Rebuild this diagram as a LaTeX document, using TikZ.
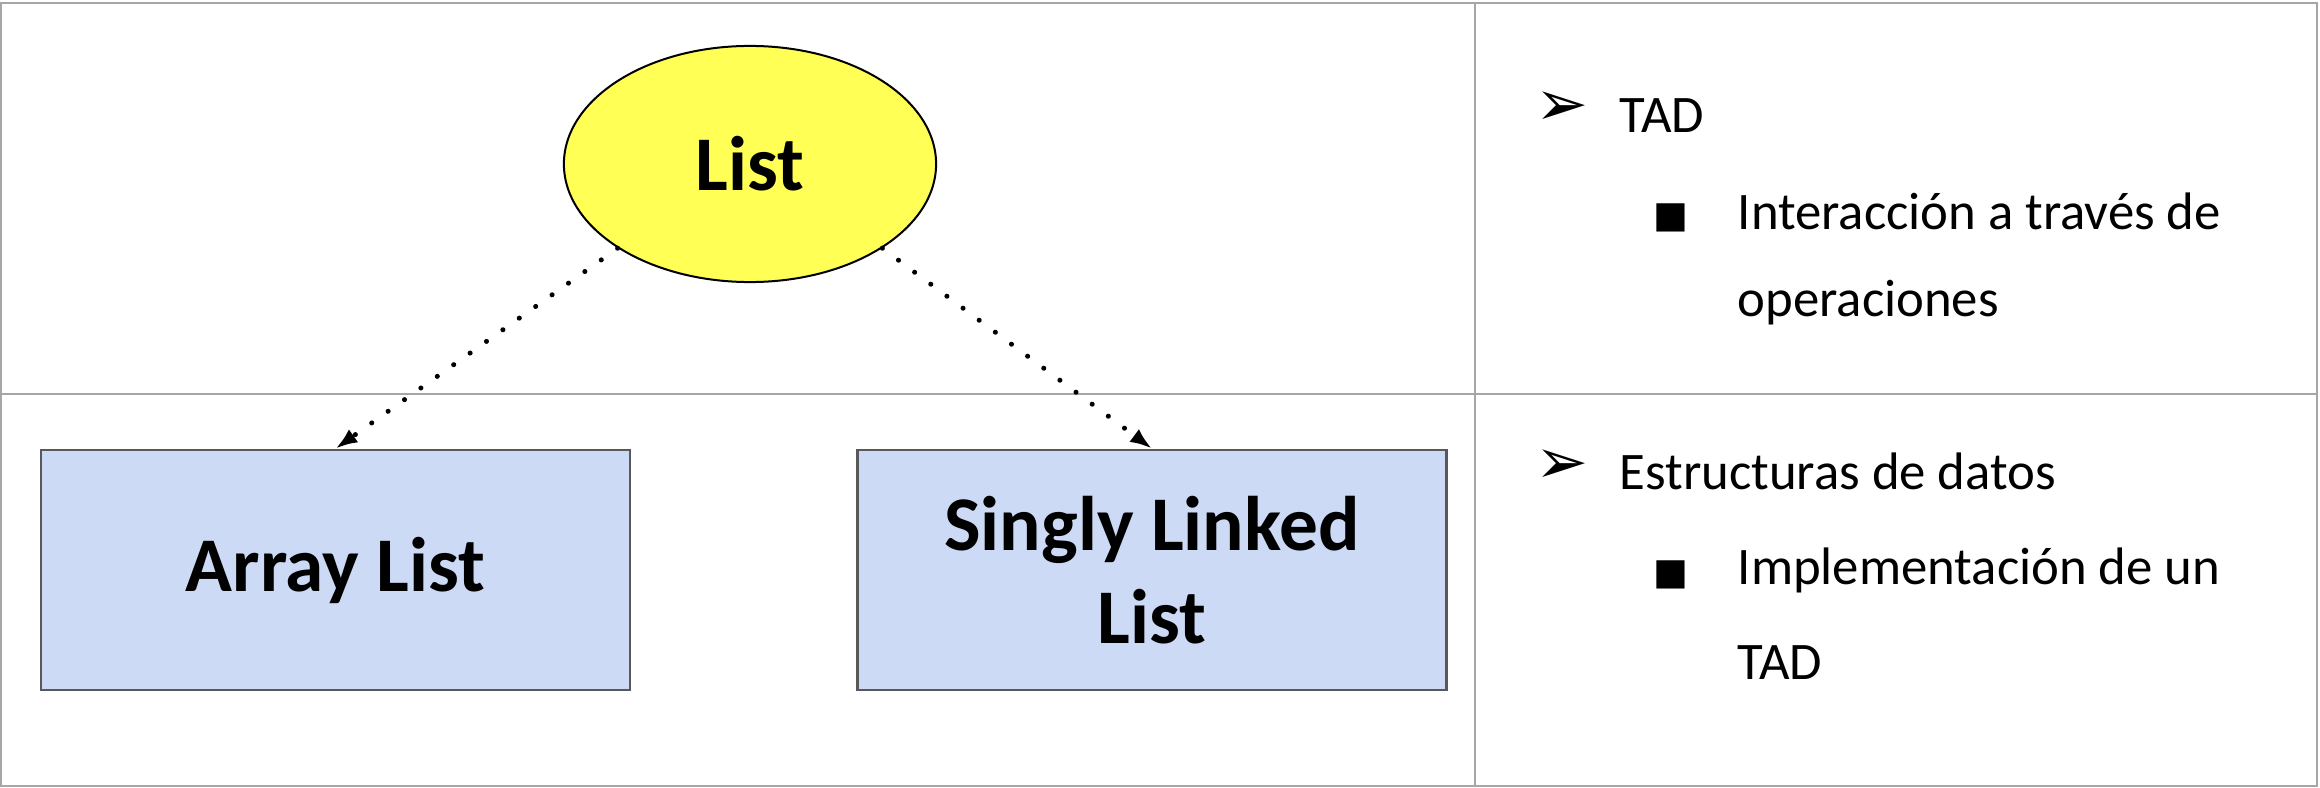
\documentclass[tikz,border=0pt]{standalone}
\usepackage{fontspec}
\setmainfont{Carlito}
\newfontfamily\dejavu{DejaVu Sans}
\usetikzlibrary{shapes.geometric,arrows.meta}
\definecolor{listyellow}{HTML}{FFFF55}
\definecolor{boxblue}{HTML}{CCDAF5}
\definecolor{boxedge}{HTML}{595959}
\definecolor{rulegray}{HTML}{A6A6A6}
\begin{document}
\begin{tikzpicture}[x=0.01cm,y=-0.01cm,
  adt/.style={ellipse, draw=black, line width=0.2mm, fill=listyellow, minimum width=3.72cm, minimum height=2.36cm, inner sep=0pt, font=\fontsize{22}{26}\selectfont\bfseries},
  impl/.style={rectangle, draw=boxedge, line width=0.25mm, fill=boxblue, minimum width=5.89cm, minimum height=2.40cm, inner sep=0pt, align=center, font=\fontsize{22}{26.5}\selectfont\bfseries},
  realizes/.style={line width=0.5mm, dash pattern=on 0.01mm off 2mm, line cap=round, -{Latex[length=2.2mm,width=1.6mm]}},
  tablerule/.style={draw=rulegray, line width=0.22mm},
  itemtext/.style={anchor=base west, inner sep=0pt, align=left, font=\fontsize{15}{27}\selectfont},
  arrowmark/.style={anchor=base west, inner sep=0pt, font=\dejavu\bfseries\fontsize{18}{18}\selectfont},
  squaremark/.style={anchor=base west, inner sep=0pt, font=\dejavu\fontsize{10.5}{10.5}\selectfont}]
\useasboundingbox (0,0) rectangle (2320,788);
\draw[tablerule] (1,3) rectangle (2317,786);
\draw[tablerule] (1,394) -- (2317,394);
\draw[tablerule] (1475,3) -- (1475,786);
\node[adt] (list) at (750,164) {List};
\node[impl] (arraylist) at (335.5,570) {Array List};
\node[impl] (sllist) at (1152,570) {Singly Linked\\List};
\draw[realizes] (list.south west) -- (arraylist.north);
\draw[realizes] (list.south east) -- (sllist.north);
\node[arrowmark] (mark1) at (1535,126) {➢};
\node[itemtext] (tad) at (1619,133) {TAD};
\node[squaremark] (sq1) at (1653,228) {■};
\node[itemtext, font=\fontsize{15}{25}\selectfont] (interaccion) at (1737,317) {Interacción a través de\\operaciones};
\node[arrowmark] (mark2) at (1535,483) {➢};
\node[itemtext] (estructuras) at (1619,489) {Estructuras de datos};
\node[squaremark] (sq2) at (1653,584) {■};
\node[itemtext] (implementacion) at (1737,679) {Implementación de un\\TAD};
\end{tikzpicture}
\end{document}
